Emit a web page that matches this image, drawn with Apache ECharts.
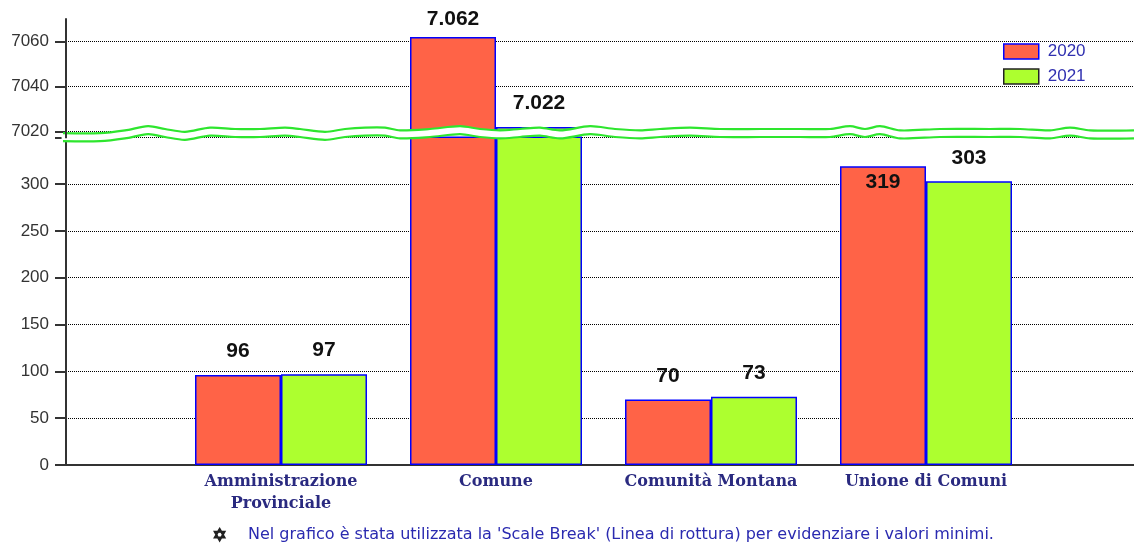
<!DOCTYPE html>
<html>
<head>
<meta charset="utf-8">
<script src="https://cdn.jsdelivr.net/npm/echarts@6/dist/echarts.min.js"></script>
<style>
html, body { margin: 0; padding: 0; background: #fff; }
#chart { width: 1134px; height: 550px; }
</style>
</head>
<body>
<div id="chart"></div>
<script>
// dati
var categories = ['Amministrazione\nProvinciale', 'Comune', 'Comunità Montana', 'Unione di Comuni'];
var years = ['2020', '2021'];
var values2020 = [96, 7062, 70, 319];
var values2021 = [97, 7022, 73, 303];
// scale break: parte bassa 0-350, parte alta 7020-7070
var lowTicks = [0, 50, 100, 150, 200, 250, 300];
var highTicks = [7020, 7040, 7060];
var lowMax = 350;
var highMin = 7020;
var highMax = 7070;
var note = "Nel grafico è stata utilizzata la 'Scale Break' (Linea di rottura) per evidenziare i valori minimi.";

var colors = ['#ff6347', '#adff2f'];
var axisData = [''].concat(categories, ['']);

function fmt(v) {
    return String(v).replace(/\B(?=(\d{3})+(?!\d))/g, '.');
}

// serie parte bassa (le barre oltre lowMax vengono tagliate dalla griglia)
function lowData(vals) {
    var d = ['-'];
    for (var i = 0; i < vals.length; i++) {
        var v = vals[i];
        var item = { value: v, label: { show: v <= lowMax } };
        if (v > lowMax - 40 && v <= lowMax) {
            item.label.position = 'insideTop';
            item.label.distance = 5;
        }
        d.push(item);
    }
    d.push('-');
    return d;
}
// serie parte alta
function highData(vals) {
    var d = ['-'];
    for (var i = 0; i < vals.length; i++) {
        var v = vals[i];
        if (v >= highMin) {
            d.push({ value: v, label: { distance: v > highMax - 12 ? 7 : 13 } });
        } else {
            d.push('-');
        }
    }
    d.push('-');
    return d;
}

var labelStyle = {
    show: true,
    position: 'top',
    distance: 13,
    fontFamily: 'Liberation Sans',
    fontWeight: 'bold',
    fontSize: 21,
    color: '#111',
    formatter: function (p) { return fmt(p.value); }
};

var axisLabelStyle = {
    fontFamily: 'Liberation Sans',
    fontSize: 17,
    color: '#333',
    margin: 17,
    formatter: function (v) { return String(v); }
};

var gridLine = { show: true, lineStyle: { color: '#000', type: [1, 1], width: 1 } };

function barSeries(name, idx, vals, upper) {
    return {
        name: name,
        type: 'bar',
        xAxisIndex: upper ? 0 : 1,
        yAxisIndex: upper ? 0 : 1,
        barWidth: 86,
        barGap: '0%',
        itemStyle: { color: colors[idx], borderColor: '#0000ff', borderWidth: 1.5 },
        label: labelStyle,
        data: upper ? highData(vals) : lowData(vals)
    };
}

var myChart = echarts.init(document.getElementById('chart'));

var option = {
    animation: false,
    legend: {
        orient: 'vertical',
        left: 1003,
        top: 43,
        padding: 0,
        itemWidth: 35,
        itemHeight: 15,
        itemGap: 8,
        icon: 'rect',
        textStyle: { fontFamily: 'Liberation Sans', fontSize: 17, color: '#3030b0', padding: [0, 0, 0, 4] },
        data: [
            { name: years[0], itemStyle: { borderColor: '#0000ff', borderWidth: 1.5 } },
            { name: years[1], itemStyle: { borderColor: '#222', borderWidth: 1.5 } }
        ]
    },
    grid: [
        { left: 66, width: 1075, top: 19, height: 112.5, outerBoundsMode: 'none', containLabel: false },
        { left: 66, width: 1075, top: 137.3, height: 327.7, outerBoundsMode: 'none', containLabel: false }
    ],
    xAxis: [
        {
            type: 'category', gridIndex: 0, data: axisData, boundaryGap: false,
            show: false
        },
        {
            type: 'category', gridIndex: 1, data: axisData, boundaryGap: false,
            axisLine: { lineStyle: { color: '#333', width: 2 } },
            axisTick: { show: false },
            axisLabel: {
                interval: 0,
                margin: 6,
                fontFamily: 'DejaVu Serif',
                fontWeight: 'bold',
                fontSize: 16,
                lineHeight: 22,
                color: '#2a2a80'
            }
        }
    ],
    yAxis: [
        {
            type: 'value', gridIndex: 0, min: highMin, max: highMax, interval: 20,
            axisLine: { show: true, lineStyle: { color: '#333', width: 2 } },
            axisTick: { show: true, length: 11, lineStyle: { color: '#333', width: 2 }, customValues: highTicks },
            axisLabel: Object.assign({ customValues: highTicks }, axisLabelStyle),
            splitLine: gridLine
        },
        {
            type: 'value', gridIndex: 1, min: 0, max: lowMax, interval: 50,
            axisLine: { show: true, lineStyle: { color: '#333', width: 2 } },
            axisTick: { show: true, length: 11, lineStyle: { color: '#333', width: 2 } },
            axisLabel: Object.assign({ customValues: lowTicks }, axisLabelStyle),
            splitLine: gridLine
        }
    ],
    series: [
        barSeries(years[0], 0, values2020, true),
        barSeries(years[1], 1, values2021, true),
        barSeries(years[0], 0, values2020, false),
        barSeries(years[1], 1, values2021, false)
    ]
};

myChart.setOption(option);

// linea di rottura (decorazione) tra le due griglie
var yTop = myChart.convertToPixel({ yAxisIndex: 0 }, highMin);
var yBot = myChart.convertToPixel({ yAxisIndex: 1 }, lowMax);
var mid = (yTop + yBot) / 2;
var waveX = [63, 100, 125, 148, 165, 185, 210, 235, 260, 285, 300, 325, 345, 365, 385, 400, 430, 460, 480, 500, 520, 540, 560, 590, 615, 640, 660, 690, 720, 760, 800, 830, 850, 865, 880, 900, 940, 990, 1020, 1050, 1070, 1090, 1134];
var waveDy = [2, 2, 0, -3, -1, 1, -2, -1, -1, -2, -1, 1, -1, -2, -2, 0, -1, -3, -1, 0, -1, -2, 0, -3, -1, 0, -1, -2, -1, -1, -1, -1, -3, -1, -3, 0, -1, -1, -1, 0, -2, 0, 0];
var up = [], lo = [];
for (var i = 0; i < waveX.length; i++) {
    up.push([waveX[i], mid - 4 + waveDy[i] * 1.4]);
    lo.push([waveX[i], mid + 4 + waveDy[i] * 1.4]);
}
var band = up.concat(lo.slice().reverse());
var axisX = myChart.convertToPixel({ xAxisIndex: 1 }, 0);

myChart.setOption({
    graphic: [
        { type: 'polygon', z: 50, shape: { points: band, smooth: 0.3 }, style: { fill: '#fff' } },
        { type: 'polyline', z: 51, shape: { points: up, smooth: 0.3 }, style: { stroke: '#2ee62e', lineWidth: 2.2, fill: null } },
        { type: 'polyline', z: 51, shape: { points: lo, smooth: 0.3 }, style: { stroke: '#2ee62e', lineWidth: 2.2, fill: null } },
        { type: 'line', z: 52, shape: { x1: axisX, y1: yTop - 1, x2: axisX, y2: yBot + 1 }, style: { stroke: '#333', lineWidth: 2 } },
        { type: 'text', left: 212, top: 527, style: { text: '\u2721', font: 'bold 17px "DejaVu Sans"', fill: '#222', stroke: '#222', lineWidth: 1.2 } },
        { type: 'text', left: 248, top: 527, style: { text: note, font: '16px "DejaVu Sans"', fill: '#2a2ab0' } }
    ]
});
</script>
</body>
</html>
